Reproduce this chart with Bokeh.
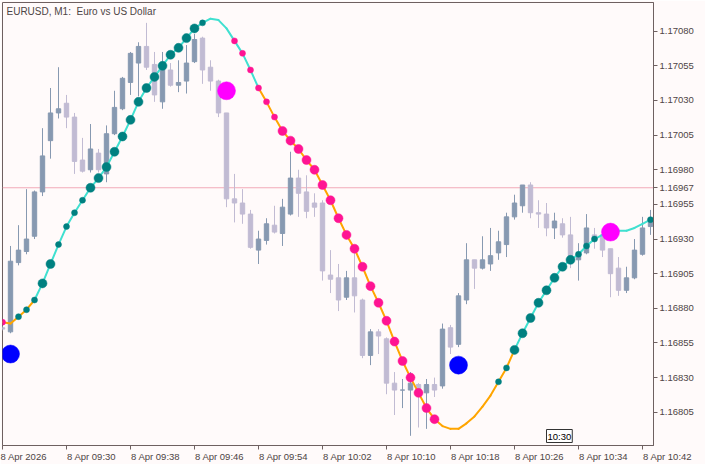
from bokeh.plotting import figure
from bokeh.models import Range1d, FixedTicker, PrintfTickFormatter, Span, Label
from bokeh.embed import file_html
from bokeh.resources import INLINE

chart_title = "EURUSD, M1:\u00a0 Euro vs US Dollar"

opens = [1.16866, 1.16863, 1.16913, 1.16921, 1.16932, 1.16964, 1.17001, 1.17021, 1.17028, 1.17018,
         1.16987, 1.16980, 1.16992, 1.16977, 1.17006, 1.17024, 1.17043, 1.17057, 1.17069, 1.17056,
         1.17029, 1.17052, 1.17041, 1.17044, 1.17058, 1.17075, 1.17054, 1.17044, 1.17021, 1.16959,
         1.16956, 1.16948, 1.16922, 1.16929, 1.16940, 1.16934, 1.16948, 1.16974, 1.16964, 1.16956,
         1.16956, 1.16904, 1.16902, 1.16888, 1.16902, 1.16886, 1.16846, 1.16863, 1.16858, 1.16826,
         1.16821, 1.16821, 1.16825, 1.16819, 1.16825, 1.16824, 1.16866, 1.16854, 1.16886, 1.16915,
         1.16909, 1.16912, 1.16920, 1.16926, 1.16946, 1.16954, 1.16969, 1.16949, 1.16948, 1.16938,
         1.16941, 1.16933, 1.16915, 1.16920, 1.16933, 1.16933, 1.16923, 1.16909, 1.16893, 1.16902,
         1.16919, 1.16939]
highs = [1.16867, 1.16925, 1.16940, 1.16966, 1.16965, 1.17010, 1.17039, 1.17054, 1.17034, 1.17021,
         1.17003, 1.17013, 1.16995, 1.17012, 1.17037, 1.17047, 1.17065, 1.17072, 1.17086, 1.17065,
         1.17065, 1.17057, 1.17059, 1.17070, 1.17078, 1.17076, 1.17059, 1.17045, 1.17021, 1.16977,
         1.16966, 1.16951, 1.16936, 1.16945, 1.16954, 1.16959, 1.16993, 1.16980, 1.16976, 1.16963,
         1.16958, 1.16922, 1.16912, 1.16907, 1.16920, 1.16887, 1.16865, 1.16865, 1.16859, 1.16834,
         1.16829, 1.16834, 1.16826, 1.16829, 1.16830, 1.16869, 1.16868, 1.16891, 1.16927, 1.16915,
         1.16932, 1.16938, 1.16936, 1.16949, 1.16962, 1.16969, 1.16971, 1.16958, 1.16956, 1.16949,
         1.16945, 1.16946, 1.16927, 1.16948, 1.16938, 1.16936, 1.16923, 1.16917, 1.16910, 1.16930,
         1.16946, 1.16951]
lows = [1.16864, 1.16862, 1.16911, 1.16919, 1.16930, 1.16961, 1.16988, 1.17017, 1.17010, 1.16977,
        1.16978, 1.16978, 1.16978, 1.16971, 1.17005, 1.17023, 1.17034, 1.17033, 1.17052, 1.17029,
        1.17024, 1.17040, 1.17036, 1.17035, 1.17057, 1.17042, 1.17037, 1.17018, 1.16953, 1.16942,
        1.16941, 1.16923, 1.16912, 1.16926, 1.16934, 1.16925, 1.16947, 1.16946, 1.16945, 1.16946,
        1.16900, 1.16891, 1.16878, 1.16886, 1.16877, 1.16844, 1.16839, 1.16847, 1.16818, 1.16803,
        1.16808, 1.16788, 1.16794, 1.16793, 1.16816, 1.16822, 1.16847, 1.16852, 1.16883, 1.16894,
        1.16908, 1.16907, 1.16915, 1.16917, 1.16944, 1.16949, 1.16945, 1.16938, 1.16932, 1.16930,
        1.16931, 1.16909, 1.16900, 1.16919, 1.16923, 1.16917, 1.16888, 1.16889, 1.16891, 1.16901,
        1.16918, 1.16933]
closes = [1.16865, 1.16914, 1.16922, 1.16930, 1.16964, 1.16990, 1.17021, 1.17024, 1.17018, 1.16986,
          1.16979, 1.16995, 1.16980, 1.17006, 1.17025, 1.17046, 1.17064, 1.17069, 1.17054, 1.17034,
          1.17057, 1.17041, 1.17043, 1.17057, 1.17074, 1.17052, 1.17044, 1.17021, 1.16959, 1.16956,
          1.16948, 1.16924, 1.16930, 1.16941, 1.16935, 1.16953, 1.16974, 1.16963, 1.16950, 1.16953,
          1.16907, 1.16901, 1.16886, 1.16902, 1.16889, 1.16846, 1.16863, 1.16860, 1.16826, 1.16821,
          1.16821, 1.16826, 1.16821, 1.16825, 1.16821, 1.16865, 1.16852, 1.16889, 1.16915, 1.16909,
          1.16915, 1.16918, 1.16928, 1.16946, 1.16956, 1.16969, 1.16949, 1.16948, 1.16938, 1.16943,
          1.16933, 1.16915, 1.16920, 1.16938, 1.16929, 1.16922, 1.16905, 1.16893, 1.16902, 1.16922,
          1.16938, 1.16945]

line_vals = [1.16870, 1.16869, 1.16874, 1.16879, 1.16886, 1.16898, 1.16912, 1.16926, 1.16939, 1.16949,
             1.16958, 1.16967, 1.16974, 1.16982, 1.16993, 1.17004, 1.17016, 1.17029, 1.17039, 1.17047,
             1.17055, 1.17063, 1.17068, 1.17075, 1.17082, 1.17086, 1.17089, 1.17088, 1.17082, 1.17073,
             1.17064, 1.17052, 1.17039, 1.17029, 1.17018, 1.17008, 1.17001, 1.16995, 1.16987, 1.16980,
             1.16969, 1.16958, 1.16945, 1.16933, 1.16923, 1.16910, 1.16896, 1.16884, 1.16871, 1.16856,
             1.16842, 1.16830, 1.16819, 1.16808, 1.16800, 1.16795, 1.16793, 1.16793, 1.16797, 1.16802,
             1.16809, 1.16817, 1.16827, 1.16837, 1.16850, 1.16862, 1.16873, 1.16884, 1.16893, 1.16902,
             1.16910, 1.16915, 1.16919, 1.16925, 1.16930, 1.16933, 1.16936, 1.16936, 1.16936, 1.16938,
             1.16941, 1.16944]
line_trend = [-1, -1, -1, -1, -1, 1, 1, 1, 1, 1,
              1, 1, 1, 1, 1, 1, 1, 1, 1, 1,
              1, 1, 1, 1, 1, 1, 1, 1, 1, 1,
              1, 1, 1, -1, -1, -1, -1, -1, -1, -1,
              -1, -1, -1, -1, -1, -1, -1, -1, -1, -1,
              -1, -1, -1, -1, -1, -1, -1, -1, -1, -1,
              -1, -1, -1, -1, -1, 1, 1, 1, 1, 1,
              1, 1, 1, 1, 1, 1, 1, 1, 1, 1,
              1, 1]
dot_class = [1, 0, 1, 1, 1, 2, 2, 1, 1, 1,
             1, 2, 2, 2, 2, 2, 2, 2, 2, 2,
             2, 2, 2, 2, 2, 1, 0, 0, 0, 1,
             1, 1, 1, 1, 1, 2, 2, 2, 2, 2,
             2, 2, 2, 2, 2, 2, 2, 2, 2, 2,
             2, 2, 2, 2, 2, 0, 0, 0, 0, 0,
             0, 0, 1, 1, 2, 2, 2, 2, 2, 2,
             2, 2, 1, 1, 1, 0, 0, 0, 0, 0,
             0, 1]
dot_dir = [-1, 1, 1, 1, 1, 1, 1, 1, 1, 1,
           1, 1, 1, 1, 1, 1, 1, 1, 1, 1,
           1, 1, 1, 1, 1, 1, 1, 1, 1, -1,
           -1, -1, -1, -1, -1, -1, -1, -1, -1, -1,
           -1, -1, -1, -1, -1, -1, -1, -1, -1, -1,
           -1, -1, -1, -1, -1, -1, -1, -1, -1, -1,
           -1, -1, 1, 1, 1, 1, 1, 1, 1, 1,
           1, 1, 1, 1, 1, 1, 1, 1, 1, 1,
           1, 1]

signal_bars = [1, 28, 57, 76]
signal_prices = [1.16847, 1.17037, 1.16839, 1.16935]
signal_side = ["buy", "sell", "buy", "sell"]

current_price = 1.16967
marker_bar = 68
marker_text = "10:30"

time_tick_bars = [0, 8, 16, 24, 32, 40, 48, 56, 64, 72, 80]
time_tick_labels = ["8 Apr 2026", "8 Apr 09:30", "8 Apr 09:38", "8 Apr 09:46", "8 Apr 09:54",
                    "8 Apr 10:02", "8 Apr 10:10", "8 Apr 10:18", "8 Apr 10:26", "8 Apr 10:34",
                    "8 Apr 10:42"]
price_ticks = [1.16805, 1.16830, 1.16855, 1.16880, 1.16905, 1.16930, 1.16955, 1.16980,
               1.17005, 1.17030, 1.17055, 1.17080]

x_view = (0, 81.375)
y_view = (1.16781, 1.171007)

# ---- styles ----
FONT = "Liberation Sans"
FS = "9.5px"
BG = "#fffafa"
AXIS = "#6e6060"
TXT = "#4e4545"
UP_C = "#8799b1"
DN_C = "#c1bbd3"
LINE_UP = "#40e0d0"
LINE_DN = "#ffa500"
DOT_UP = "#008080"
DOT_DN = "#ff1493"
SIG_C = {"buy": "#0000ff", "sell": "#ff00ff"}

p = figure(frame_width=651, frame_height=443, output_backend="svg", toolbar_location=None,
           x_range=Range1d(*x_view), y_range=Range1d(*y_view),
           y_axis_location="right", min_border_left=2, min_border_top=2,
           min_border_right=52, min_border_bottom=19)
p.background_fill_color = BG
p.border_fill_color = BG
p.outline_line_color = AXIS
p.xgrid.grid_line_color = None
p.ygrid.grid_line_color = None

# axes (time labels start at their tick, like the original: pad on the left)
xa = p.xaxis[0]
xa.ticker = FixedTicker(ticks=time_tick_bars, minor_ticks=[])
xa.major_label_overrides = {b: (lab if i == 0 else "\u00a0" * 19 + lab)
                            for i, (b, lab) in enumerate(zip(time_tick_bars, time_tick_labels))}
ya = p.yaxis[0]
ya.ticker = FixedTicker(ticks=price_ticks + [current_price], minor_ticks=[])
ya.formatter = PrintfTickFormatter(format="%.5f")
for ax in (xa, ya):
    ax.axis_label = None
    ax.axis_label_standoff = 0
    ax.axis_line_color = AXIS
    ax.major_tick_line_color = AXIS
    ax.minor_tick_line_color = None
    ax.major_tick_in = 0
    ax.major_tick_out = 4
    ax.major_label_standoff = 2
    ax.major_label_text_font = FONT
    ax.major_label_text_font_size = FS
    ax.major_label_text_color = TXT
    ax.major_label_text_line_height = 1.0
xa.major_label_standoff = 1

# current price line
p.add_layout(Span(location=current_price, dimension="width", line_color="#f2aab8",
                  line_width=1, level="underlay"))

# candles
xs = list(range(len(opens)))
colors = [UP_C if c >= o else DN_C for o, c in zip(opens, closes)]
p.segment(x0=xs, y0=highs, x1=xs, y1=lows, line_color=colors, line_width=1)
p.vbar(x=xs, width=0.55, top=[max(o, c) for o, c in zip(opens, closes)],
       bottom=[min(o, c) for o, c in zip(opens, closes)],
       fill_color=colors, line_color=colors, line_width=1)

# indicator line, coloured by trend
seg_col = [LINE_UP if t > 0 else LINE_DN for t in line_trend[1:]]
p.segment(x0=xs[:-1], y0=line_vals[:-1], x1=xs[1:], y1=line_vals[1:],
          line_color=seg_col, line_width=2, line_cap="round")

# dots
dx = [x for x, k in zip(xs, dot_class) if k > 0]
dy = [v for v, k in zip(line_vals, dot_class) if k > 0]
dsz = [6 if k == 1 else 9 for k in dot_class if k > 0]
dcol = [DOT_UP if d > 0 else DOT_DN for d, k in zip(dot_dir, dot_class) if k > 0]
p.scatter(x=dx, y=dy, size=dsz, fill_color=dcol, line_color=dcol, line_width=0.5)

# signals
p.scatter(x=signal_bars, y=signal_prices, size=18,
          fill_color=[SIG_C[s] for s in signal_side],
          line_color=[SIG_C[s] for s in signal_side], line_width=0.5)

# title inside the chart
p.add_layout(Label(x=x_view[0], y=y_view[1], x_offset=4, y_offset=-3, text=chart_title,
                   text_baseline="top", text_align="left", text_font=FONT,
                   text_font_size="10px", text_color=TXT))

# time marker box
p.add_layout(Label(x=marker_bar, y=y_view[0], y_offset=3, text=marker_text,
                   text_baseline="bottom", text_align="left", text_font=FONT,
                   text_font_size=FS, text_color="black",
                   background_fill_color="white", border_line_color="#333333",
                   padding=1))

open("out.html", "w").write(file_html(p, INLINE))
